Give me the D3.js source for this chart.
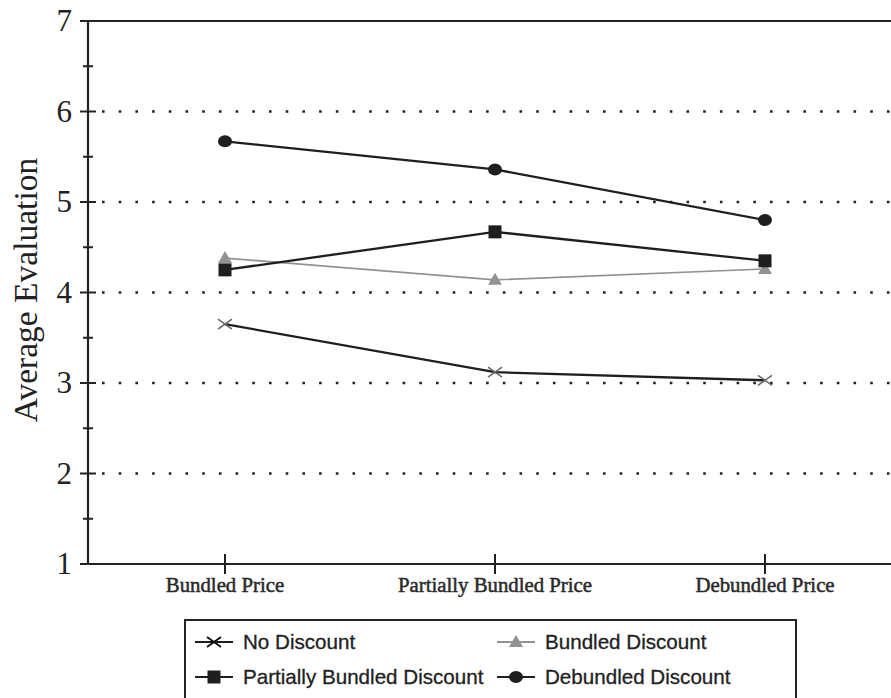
<!DOCTYPE html>
<html><head><meta charset="utf-8">
<script src="https://cdn.jsdelivr.net/npm/d3@7"></script>
<style>body{margin:0;background:#fff;overflow:hidden}svg{display:block}</style>
</head><body>
<svg id="c" width="891" height="698"></svg>
<script>
const categories = ["Bundled Price", "Partially Bundled Price", "Debundled Price"];
const seriesNames = ["No Discount", "Bundled Discount", "Partially Bundled Discount", "Debundled Discount"];
const noDiscount = [3.65, 3.12, 3.03];
const bundledDiscount = [4.38, 4.14, 4.26];
const partiallyBundledDiscount = [4.25, 4.67, 4.35];
const debundledDiscount = [5.67, 5.36, 4.80];
const yTicks = [1, 2, 3, 4, 5, 6, 7];
const yMinorTicks = [1.5, 2.5, 3.5, 4.5, 5.5, 6.5];
const gridValues = [2, 3, 4, 5, 6];

(function(){
const series = [
  {name: seriesNames[0], values: noDiscount, color: "#1e1e1e", marker: "x", lw: 2.3},
  {name: seriesNames[1], values: bundledDiscount, color: "#929292", marker: "triangle", lw: 1.7},
  {name: seriesNames[2], values: partiallyBundledDiscount, color: "#1e1e1e", marker: "square", lw: 2.3},
  {name: seriesNames[3], values: debundledDiscount, color: "#1e1e1e", marker: "circle", lw: 2.3}
];

const svg = d3.select("#c");
const mLeft = 88, mTop = 21, mBottom = 564;
const x = d3.scaleBand().domain(categories).range([90, 900]);
const y = d3.scaleLinear().domain([1, 7]).range([mBottom, mTop]);
const cx = c => x(c) + x.bandwidth() / 2;

// grid
svg.append("g").selectAll("line").data(gridValues).join("line")
  .attr("x1", mLeft).attr("x2", 891).attr("y1", d => y(d)).attr("y2", d => y(d))
  .attr("stroke", "#222").attr("stroke-width", 2.6).attr("stroke-dasharray", "2.6,14.1")
  .attr("stroke-dashoffset", -14);

// top frame
svg.append("line").attr("x1", mLeft - 8).attr("x2", 891).attr("y1", y(7)).attr("y2", y(7))
  .attr("stroke", "#222").attr("stroke-width", 2);

// y axis
const yAxis = svg.append("g").attr("transform", `translate(${mLeft},0)`);
yAxis.call(d3.axisLeft(y).tickValues(yTicks).tickSize(0).tickPadding(16).tickFormat(d3.format("d")));
yAxis.select(".domain").remove();
yAxis.selectAll("text").attr("font-family", "Liberation Serif, serif").attr("font-size", 31).attr("fill", "#222");
yAxis.append("line").attr("y1", y(1)).attr("y2", y(7)).attr("stroke", "#222").attr("stroke-width", 2.2);
yAxis.append("g").selectAll("line").data(yTicks).join("line")
  .attr("x1", -8).attr("x2", 8).attr("y1", d => y(d)).attr("y2", d => y(d)).attr("stroke", "#222").attr("stroke-width", 2);
yAxis.append("g").selectAll("line").data(yMinorTicks).join("line")
  .attr("x1", -5).attr("x2", 5).attr("y1", d => y(d)).attr("y2", d => y(d)).attr("stroke", "#222").attr("stroke-width", 2);

// x axis
const xAxis = svg.append("g").attr("transform", `translate(0,${mBottom})`);
xAxis.call(d3.axisBottom(x).tickSize(0).tickPadding(13));
xAxis.select(".domain").remove();
xAxis.selectAll("text").attr("font-family", "Liberation Serif, serif").attr("font-size", 20.8)
  .attr("fill", "#2a2a2a").attr("stroke", "#2a2a2a").attr("stroke-width", 0.5);
xAxis.append("line").attr("x1", mLeft - 8).attr("x2", 891).attr("stroke", "#222").attr("stroke-width", 2.2);
xAxis.append("g").selectAll("line").data(categories).join("line")
  .attr("x1", d => cx(d)).attr("x2", d => cx(d)).attr("y1", -10).attr("y2", 10).attr("stroke", "#222").attr("stroke-width", 2);

// y label
svg.append("text").attr("transform", `translate(37,290) rotate(-90)`)
  .attr("text-anchor", "middle").attr("font-family", "Liberation Serif, serif").attr("font-size", 33.5)
  .attr("fill", "#222").text("Average Evaluation");

function drawMarker(g, type, px, py, color, xColor, xw) {
  if (type === "circle") g.append("ellipse").attr("cx", px).attr("cy", py).attr("rx", 7).attr("ry", 6).attr("fill", color);
  else if (type === "square") g.append("rect").attr("x", px - 6.5).attr("y", py - 6.5).attr("width", 13).attr("height", 13).attr("fill", color);
  else if (type === "triangle") g.append("path").attr("d", `M${px},${py-7}L${px+7},${py+5}L${px-7},${py+5}Z`).attr("fill", color);
  else if (type === "x") g.append("path").attr("d", `M${px-7},${py-5}L${px+7},${py+5}M${px-7},${py+5}L${px+7},${py-5}`).attr("stroke", xColor).attr("stroke-width", xw).attr("fill", "none");
}

const line = d3.line().x((d, i) => cx(categories[i])).y(d => y(d));
const plot = svg.append("g");
series.forEach(s => {
  plot.append("path").attr("d", line(s.values)).attr("fill", "none").attr("stroke", s.color).attr("stroke-width", s.lw);
  s.values.forEach((v, i) => drawMarker(plot, s.marker, cx(categories[i]), y(v), s.color, "#666", 1.5));
});

// legend
const lg = svg.append("g");
lg.append("rect").attr("x", 185).attr("y", 620).attr("width", 611).attr("height", 80)
  .attr("fill", "none").attr("stroke", "#222").attr("stroke-width", 2);
const legendPos = [
  {s: series[0], lx: 195, ly: 642},
  {s: series[1], lx: 497, ly: 642},
  {s: series[2], lx: 195, ly: 677},
  {s: series[3], lx: 497, ly: 677}
];
legendPos.forEach(p => {
  const g = lg.append("g");
  g.append("line").attr("x1", p.lx).attr("x2", p.lx + 38).attr("y1", p.ly).attr("y2", p.ly)
    .attr("stroke", p.s.color).attr("stroke-width", 2);
  drawMarker(g, p.s.marker, p.lx + 19, p.ly, p.s.color, "#111", 2);
  g.append("text").attr("x", p.lx + 48).attr("y", p.ly + 7).attr("font-family", "Liberation Sans, Arial, sans-serif")
    .attr("font-size", 20.6).attr("fill", "#222").attr("stroke", "#222").attr("stroke-width", 0.3).text(p.s.name);
});
})();
</script>
</body></html>
